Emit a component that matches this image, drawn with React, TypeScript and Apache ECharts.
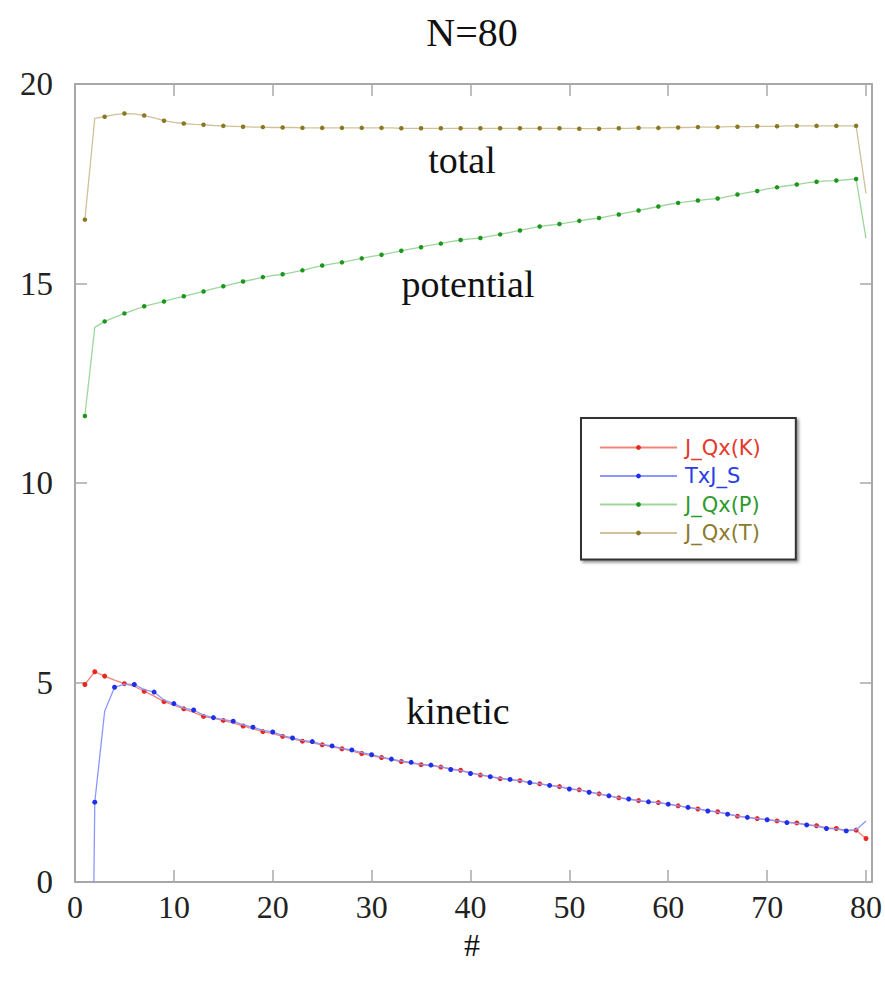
import React, { useEffect, useRef } from "react";
import * as echarts from "echarts";

const xs = [
  1, 2, 3, 4, 5, 6, 7, 8, 9, 10, 11, 12, 13, 14, 15, 16, 17, 18, 19, 20,
  21, 22, 23, 24, 25, 26, 27, 28, 29, 30, 31, 32, 33, 34, 35, 36, 37, 38, 39, 40,
  41, 42, 43, 44, 45, 46, 47, 48, 49, 50, 51, 52, 53, 54, 55, 56, 57, 58, 59, 60,
  61, 62, 63, 64, 65, 66, 67, 68, 69, 70, 71, 72, 73, 74, 75, 76, 77, 78, 79, 80,
];

const kinetic = [
  4.95, 5.27, 5.16, 5.06, 4.97, 4.9, 4.78, 4.66, 4.52, 4.43,
  4.34, 4.25, 4.15, 4.1, 4.05, 3.98, 3.91, 3.84, 3.77, 3.72,
  3.65, 3.59, 3.53, 3.49, 3.44, 3.39, 3.34, 3.28, 3.22, 3.17,
  3.12, 3.07, 3.02, 2.98, 2.94, 2.91, 2.88, 2.84, 2.8, 2.74,
  2.68, 2.64, 2.59, 2.56, 2.54, 2.49, 2.46, 2.42, 2.39, 2.34,
  2.31, 2.26, 2.21, 2.16, 2.11, 2.08, 2.04, 2.01, 1.99, 1.95,
  1.91, 1.87, 1.83, 1.79, 1.76, 1.71, 1.65, 1.62, 1.59, 1.56,
  1.53, 1.5, 1.48, 1.44, 1.41, 1.36, 1.34, 1.3, 1.3, 1.09,
];

const txjS = [
  -20, 2.0, 4.28, 4.88, 4.96, 4.95, 4.82, 4.76, 4.56, 4.47,
  4.36, 4.31, 4.18, 4.12, 4.07, 4.03, 3.94, 3.88, 3.8, 3.76,
  3.67, 3.61, 3.55, 3.52, 3.45, 3.41, 3.35, 3.31, 3.24, 3.19,
  3.13, 3.08, 3.03, 3.0, 2.95, 2.93, 2.89, 2.82, 2.8, 2.72,
  2.69, 2.64, 2.6, 2.57, 2.54, 2.49, 2.46, 2.42, 2.39, 2.33,
  2.31, 2.25, 2.21, 2.16, 2.11, 2.08, 2.04, 2.01, 1.99, 1.95,
  1.91, 1.87, 1.83, 1.78, 1.75, 1.7, 1.65, 1.62, 1.59, 1.56,
  1.53, 1.49, 1.47, 1.43, 1.4, 1.34, 1.33, 1.28, 1.31, 1.53,
];

const potential = [
  11.68, 13.9, 14.05, 14.15, 14.25, 14.34, 14.43, 14.49, 14.55, 14.62,
  14.68, 14.74, 14.8, 14.87, 14.93, 14.99, 15.05, 15.1, 15.16, 15.2,
  15.23, 15.28, 15.33, 15.39, 15.45, 15.49, 15.53, 15.58, 15.63, 15.68,
  15.72, 15.77, 15.82, 15.87, 15.91, 15.96, 16.0, 16.05, 16.09, 16.12,
  16.14, 16.19, 16.23, 16.28, 16.33, 16.38, 16.43, 16.46, 16.49, 16.53,
  16.57, 16.61, 16.64, 16.69, 16.73, 16.78, 16.83, 16.88, 16.93, 16.98,
  17.02, 17.05, 17.08, 17.11, 17.13, 17.18, 17.23, 17.28, 17.32, 17.37,
  17.41, 17.45, 17.48, 17.52, 17.55, 17.57, 17.58, 17.6, 17.62, 16.13,
];

const total = [
  16.6, 19.14, 19.18, 19.23, 19.26, 19.25, 19.21, 19.15, 19.08, 19.04,
  19.01, 18.99, 18.98, 18.96, 18.95, 18.94, 18.93, 18.92, 18.92, 18.91,
  18.91, 18.91, 18.9, 18.9, 18.9, 18.9, 18.9, 18.9, 18.9, 18.9,
  18.9, 18.9, 18.89, 18.89, 18.89, 18.89, 18.89, 18.89, 18.89, 18.89,
  18.89, 18.89, 18.89, 18.89, 18.89, 18.89, 18.89, 18.89, 18.89, 18.89,
  18.88, 18.88, 18.88, 18.89, 18.89, 18.89, 18.9, 18.9, 18.9, 18.91,
  18.91, 18.91, 18.92, 18.92, 18.92, 18.93, 18.93, 18.93, 18.94, 18.94,
  18.94, 18.95, 18.95, 18.95, 18.95, 18.95, 18.95, 18.95, 18.95, 17.26,
];

const seriesNames = ["J_Qx(K)", "TxJ_S", "J_Qx(P)", "J_Qx(T)"];
const xTicks = [0, 10, 20, 30, 40, 50, 60, 70, 80];
const yTicks = [0, 5, 10, 15, 20];

const SERIF = "'Liberation Serif', 'Times New Roman', serif";
const SANS = "'DejaVu Sans', 'Liberation Sans', sans-serif";
const FRAME = "#a8a8a8";

export default function App() {
  const ref = useRef<HTMLDivElement>(null);
  useEffect(() => {
    if (!ref.current) return;
    const chart = echarts.init(ref.current, null, { renderer: "svg" });
    const pairs = (ys: number[]) => xs.map((x, i) => [x, ys[i]]);
    const oddMarks = (v: number[]) => (v[0] % 2 === 1 ? 4.5 : 0);
    const redMarks = (v: number[]) => (v[0] % 2 === 1 || v[0] === 2 || v[0] === 80 ? 5 : 0);
    const blueMarks = (v: number[]) => (v[0] % 2 === 0 && v[0] < 80 ? 5 : 0);

    const mk = (name: string, ys: number[], lineColor: string, markColor: string, sizeFn: any, z: number) => ({
      name,
      type: "line",
      data: pairs(ys),
      color: markColor,
      symbol: "circle",
      symbolSize: sizeFn,
      showSymbol: true,
      showAllSymbol: true,
      clip: true,
      z,
      lineStyle: { color: lineColor, width: 1.3 },
      itemStyle: { color: markColor },
      emphasis: { disabled: true },
    });

    const xMin = 0;
    const xMax = 80.6;
    const frameLine = { show: true, onZero: false, lineStyle: { color: FRAME, width: 2 } };
    const frameTick = { show: true, inside: true, length: 12, lineStyle: { color: FRAME, width: 1.5 } };

    chart.setOption({
      animation: false,
      backgroundColor: "#ffffff",
      grid: { left: 75, right: 13, top: 84, bottom: 106, containLabel: false },
      xAxis: [
        {
          type: "value",
          min: xMin,
          max: xMax,
          interval: 10,
          position: "bottom",
          axisLine: frameLine,
          axisTick: frameTick,
          axisLabel: {
            show: true,
            margin: 9,
            fontFamily: SERIF,
            fontSize: 32,
            color: "#222",
            formatter: (v: number) => (xTicks.includes(v) ? String(v) : ""),
          },
          splitLine: { show: false },
        },
        {
          type: "value",
          min: xMin,
          max: xMax,
          interval: 10,
          position: "top",
          axisLine: frameLine,
          axisTick: frameTick,
          axisLabel: { show: false },
          splitLine: { show: false },
        },
      ],
      yAxis: [
        {
          type: "value",
          min: 0,
          max: 20,
          interval: 5,
          position: "left",
          axisLine: frameLine,
          axisTick: frameTick,
          axisLabel: {
            show: true,
            margin: 22,
            fontFamily: SERIF,
            fontSize: 33,
            color: "#222",
            formatter: (v: number) => (yTicks.includes(v) ? String(v) : ""),
          },
          splitLine: { show: false },
        },
        {
          type: "value",
          min: 0,
          max: 20,
          interval: 5,
          position: "right",
          axisLine: frameLine,
          axisTick: frameTick,
          axisLabel: { show: false },
          splitLine: { show: false },
        },
      ],
      legend: {
        orient: "vertical",
        left: 581,
        top: 418,
        padding: [19, 35, 16, 18],
        itemWidth: 77,
        itemHeight: 6,
        itemGap: 7.5,
        backgroundColor: "#ffffff",
        borderColor: "#333333",
        borderWidth: 2,
        borderRadius: 0,
        shadowColor: "rgba(0,0,0,0.45)",
        shadowBlur: 3,
        shadowOffsetX: 2,
        shadowOffsetY: 2,
        selectedMode: false,
        textStyle: { fontFamily: SANS, fontSize: 21, lineHeight: 18, padding: [0, 0, 0, 3] },
        data: [
          { name: seriesNames[0], textStyle: { color: "#e53a2c" } },
          { name: seriesNames[1], textStyle: { color: "#2a3ee6" } },
          { name: seriesNames[2], textStyle: { color: "#2e9a2e" } },
          { name: seriesNames[3], textStyle: { color: "#8c7b2e" } },
        ],
      },
      series: [
        mk(seriesNames[0], kinetic, "#f4837a", "#e8281e", redMarks, 3),
        mk(seriesNames[1], txjS, "#8c96ff", "#1f30ea", blueMarks, 4),
        mk(seriesNames[2], potential, "#9ed79e", "#1c961c", oddMarks, 2),
        mk(seriesNames[3], total, "#cfc29a", "#8a7722", oddMarks, 1),
      ],
      graphic: [
        { type: "text", x: 472, y: 32, style: { text: "N=80", font: `40px ${SERIF}`, fill: "#111", align: "center", verticalAlign: "middle" } },
        { type: "text", x: 472, y: 945, style: { text: "#", font: `32px ${SERIF}`, fill: "#111", align: "center", verticalAlign: "middle" } },
        { type: "text", x: 462, y: 160, style: { text: "total", font: `38px ${SERIF}`, fill: "#111", align: "center", verticalAlign: "middle" } },
        { type: "text", x: 468, y: 284, style: { text: "potential", font: `38px ${SERIF}`, fill: "#111", align: "center", verticalAlign: "middle" } },
        { type: "text", x: 458, y: 711, style: { text: "kinetic", font: `38px ${SERIF}`, fill: "#111", align: "center", verticalAlign: "middle" } },
      ],
    });
    return () => chart.dispose();
  }, []);
  return <div ref={ref} style={{ width: 885, height: 988, position: "absolute", left: 0, top: 0 }} />;
}
